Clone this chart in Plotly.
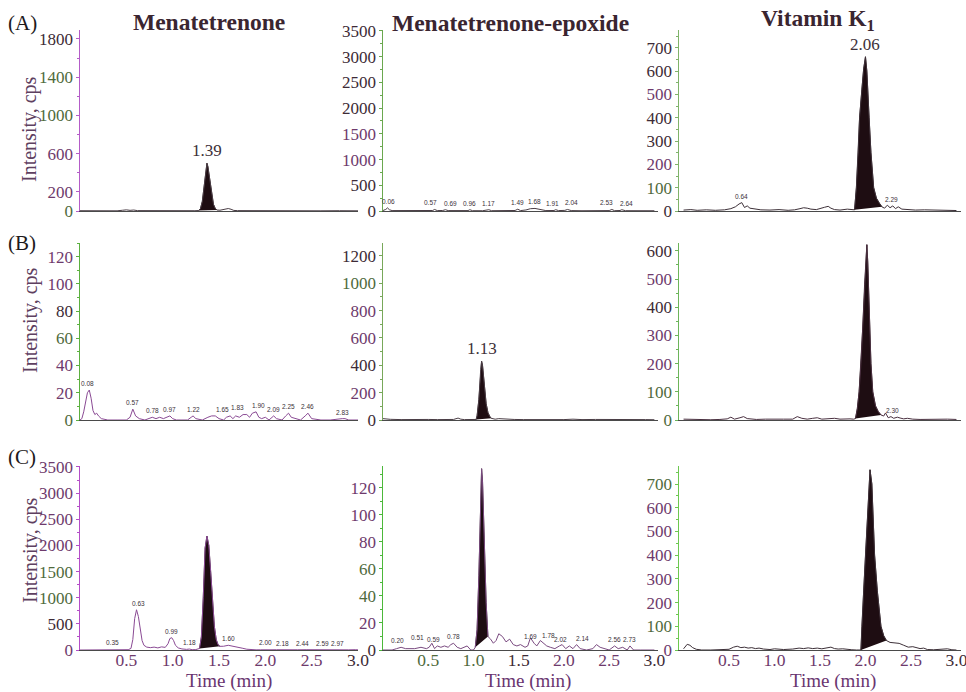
import numpy as np
import plotly.graph_objects as go

# ---------------- data ----------------
# Row A  -  Menatetrenone / Menatetrenone-epoxide / Vitamin K1
a1_t = [0.00, 0.05, 0.12, 0.20, 0.30, 0.40, 0.46, 0.50, 0.54, 0.58, 0.62, 0.70, 0.80, 0.90, 1.00, 1.10, 1.18, 1.24,
        1.28, 1.30, 1.32, 1.34, 1.36, 1.37, 1.38, 1.40, 1.42, 1.44, 1.46, 1.48, 1.51, 1.54, 1.57, 1.60, 1.63, 1.66,
        1.70, 1.80, 1.90, 2.00, 2.20, 2.40, 2.60, 2.80, 3.00]
a1_y = [3, 2, 4, 2, 3, 2, 8, 12, 7, 10, 4, 3, 2, 4, 3, 2, 4, 3,
        5, 25, 100, 270, 460, 500, 465, 330, 170, 70, 25, 10, 8, 15, 24, 26, 18, 6,
        4, 3, 2, 4, 2, 3, 2, 3, 2]

a2_t = [0.00, 0.03, 0.05, 0.07, 0.10, 0.20, 0.35, 0.50, 0.55, 0.57, 0.60, 0.66, 0.69, 0.72, 0.85, 0.94, 0.96, 0.99,
        1.10, 1.15, 1.17, 1.20, 1.35, 1.46, 1.49, 1.52, 1.58, 1.63, 1.68, 1.74, 1.80, 1.89, 1.91, 1.94, 2.01, 2.04,
        2.08, 2.20, 2.35, 2.50, 2.53, 2.56, 2.62, 2.64, 2.68, 2.85, 3.00]
a2_y = [10, 30, 60, 25, 8, 6, 5, 6, 10, 30, 8, 10, 25, 8, 6, 8, 25, 6,
        5, 10, 25, 6, 5, 10, 35, 8, 20, 45, 50, 30, 8, 10, 25, 8, 12, 30,
        8, 5, 6, 8, 30, 6, 10, 25, 6, 5, 5]

a3_t = [0.00, 0.08, 0.15, 0.25, 0.35, 0.45, 0.52, 0.57, 0.61, 0.64, 0.67, 0.70, 0.73, 0.78, 0.85, 0.95, 1.05, 1.15,
        1.22, 1.28, 1.32, 1.36, 1.40, 1.46, 1.51, 1.55, 1.59, 1.62, 1.66, 1.72, 1.80, 1.86, 1.88, 1.90, 1.92, 1.935,
        1.96, 1.98, 2.00, 2.015, 2.04, 2.06, 2.09, 2.12, 2.15, 2.18, 2.21, 2.24, 2.27, 2.30, 2.33, 2.36, 2.40, 2.45,
        2.55, 2.65, 2.80, 2.90, 3.00]
a3_y = [4, 6, 3, 5, 3, 5, 10, 18, 30, 36, 15, 22, 12, 8, 5, 4, 6, 3,
        5, 10, 14, 12, 8, 6, 10, 16, 20, 12, 6, 4, 8, 6, 5, 100, 250, 400,
        520, 610, 662, 600, 400, 250, 100, 55, 35, 18, 12, 25, 14, 22, 10, 18, 8, 6,
        4, 5, 3, 4, 2]

# Row B
b1_t = [0.00, 0.02, 0.04, 0.06, 0.08, 0.10, 0.12, 0.14, 0.16, 0.18, 0.20, 0.23, 0.30, 0.40, 0.50, 0.54, 0.57, 0.60,
        0.64, 0.70, 0.74, 0.78, 0.82, 0.86, 0.90, 0.94, 0.97, 1.00, 1.04, 1.10, 1.16, 1.20, 1.22, 1.25, 1.32, 1.38,
        1.42, 1.46, 1.50, 1.55, 1.58, 1.62, 1.65, 1.68, 1.72, 1.76, 1.80, 1.83, 1.86, 1.90, 1.93, 1.96, 2.00, 2.04,
        2.09, 2.12, 2.18, 2.22, 2.25, 2.28, 2.32, 2.38, 2.43, 2.46, 2.50, 2.60, 2.70, 2.80, 2.83, 2.86, 2.90, 3.00]
b1_y = [0, 1, 6, 14, 20, 22, 16, 7, 4, 5, 3, 1, 0, 0, 0, 2, 8, 3,
        1, 0, 1, 2, 1, 2, 1, 2, 3, 1, 0, 0, 0, 2, 3, 1, 0, 2,
        3, 3, 1, 0, 2, 3, 1, 3, 2, 4, 4, 2, 5, 6, 2, 1, 2, 0,
        3, 1, 0, 3, 5, 2, 1, 0, 3, 5, 1, 0, 0, 1, 1, 1, 0, 0]

b2_t = [0.00, 0.03, 0.08, 0.20, 0.30, 0.40, 0.50, 0.60, 0.70, 0.78, 0.83, 0.86, 0.90, 0.95, 1.00, 1.03, 1.04, 1.06,
        1.08, 1.09, 1.10, 1.12, 1.14, 1.16, 1.18, 1.20, 1.24, 1.28, 1.32, 1.36, 1.45, 1.55, 1.70, 1.85, 2.00, 2.10,
        2.20, 2.35, 2.50, 2.65, 2.80, 2.90, 3.00]
b2_y = [10, 8, 5, 3, 5, 2, 4, 3, 2, 4, 14, 6, 3, 4, 2, 4, 30, 150,
        370, 430, 400, 250, 120, 55, 25, 12, 6, 10, 8, 5, 4, 3, 2, 4, 3, 6,
        3, 4, 5, 3, 2, 3, 2]

b3_t = [0.00, 0.10, 0.20, 0.30, 0.40, 0.48, 0.52, 0.56, 0.62, 0.66, 0.70, 0.74, 0.80, 0.90, 1.00, 1.10, 1.20, 1.25,
        1.30, 1.36, 1.42, 1.47, 1.52, 1.60, 1.66, 1.72, 1.78, 1.83, 1.87, 1.89, 1.91, 1.93, 1.95, 1.97, 1.99, 2.005,
        2.015, 2.025, 2.04, 2.06, 2.08, 2.11, 2.14, 2.17, 2.20, 2.22, 2.25, 2.28, 2.31, 2.35, 2.38, 2.42, 2.46, 2.52,
        2.60, 2.70, 2.80, 2.90, 3.00]
b3_y = [3, 2, 2, 1, 2, 4, 10, 3, 8, 12, 5, 3, 2, 3, 2, 3, 3, 12,
        6, 3, 6, 8, 3, 4, 6, 3, 5, 4, 3, 5, 40, 100, 200, 330, 480, 600,
        622, 560, 380, 200, 100, 50, 30, 18, 14, 25, 8, 12, 6, 10, 7, 4, 6, 3,
        2, 3, 2, 3, 2]

# Row C
c1_t = [0.00, 0.10, 0.20, 0.30, 0.33, 0.35, 0.37, 0.45, 0.52, 0.55, 0.57, 0.59, 0.61, 0.63, 0.65, 0.67, 0.69, 0.72,
        0.76, 0.80, 0.84, 0.88, 0.92, 0.95, 0.97, 0.99, 1.01, 1.03, 1.06, 1.10, 1.15, 1.18, 1.21, 1.25, 1.29, 1.31,
        1.33, 1.35, 1.37, 1.39, 1.41, 1.43, 1.45, 1.47, 1.49, 1.51, 1.55, 1.60, 1.65, 1.70, 1.75, 1.80, 1.85, 1.90,
        1.95, 2.00, 2.05, 2.12, 2.18, 2.25, 2.35, 2.44, 2.52, 2.59, 2.68, 2.80, 2.90, 2.97, 3.00]
c1_y = [0, 2, 3, 4, 6, 15, 5, 4, 6, 30, 200, 600, 770, 640, 380, 180, 90, 55,
        45, 55, 40, 60, 50, 120, 220, 235, 180, 90, 40, 20, 12, 18, 6, 8, 30, 250,
        1000, 1950, 2180, 2000, 1500, 900, 450, 200, 100, 70, 72, 90, 75, 55, 35, 15, 6, 3,
        4, 10, 4, 5, 8, 3, 4, 6, 3, 7, 3, 2, 3, 6, 3]

c2_t = [0.00, 0.10, 0.15, 0.20, 0.25, 0.35, 0.42, 0.48, 0.51, 0.54, 0.57, 0.60, 0.64, 0.68, 0.72, 0.75, 0.78, 0.82,
        0.86, 0.90, 0.93, 0.97, 1.00, 1.02, 1.04, 1.06, 1.08, 1.09, 1.10, 1.12, 1.14, 1.16, 1.19, 1.22, 1.25, 1.28,
        1.32, 1.36, 1.40, 1.44, 1.48, 1.52, 1.57, 1.60, 1.63, 1.67, 1.70, 1.74, 1.78, 1.81, 1.85, 1.90, 1.95, 1.98,
        2.02, 2.06, 2.10, 2.14, 2.18, 2.25, 2.32, 2.36, 2.40, 2.45, 2.50, 2.56, 2.60, 2.65, 2.70, 2.73, 2.77, 2.85,
        3.00]
c2_y = [0, 0, 1, 2, 1, 1, 2, 1, 2, 5, 1, 3, 2, 3, 2, 4, 5, 2,
        1, 2, 3, 0, 0, 2, 15, 55, 115, 134, 125, 80, 35, 10, 8, 5, 7, 12,
        10, 6, 8, 4, 3, 4, 2, 3, 9, 5, 3, 7, 5, 3, 2, 1, 3, 4,
        1, 3, 1, 4, 1, 0, 1, 4, 2, 1, 0, 3, 1, 2, 0, 3, 0, 0,
        0]

c3_t = [0.00, 0.02, 0.04, 0.07, 0.10, 0.14, 0.20, 0.30, 0.40, 0.50, 0.55, 0.59, 0.63, 0.67, 0.71, 0.75, 0.79, 0.83,
        0.88, 0.95, 1.00, 1.05, 1.10, 1.20, 1.27, 1.32, 1.37, 1.42, 1.47, 1.52, 1.58, 1.62, 1.66, 1.70, 1.75, 1.80,
        1.85, 1.90, 1.95, 1.96, 1.98, 2.00, 2.02, 2.04, 2.05, 2.07, 2.10, 2.13, 2.17, 2.20, 2.23, 2.27, 2.32, 2.37,
        2.42, 2.47, 2.52, 2.56, 2.60, 2.64, 2.68, 2.75, 2.85, 2.90, 2.95, 3.00]
c3_y = [5, 15, 24, 20, 10, 3, 0, 0, 1, 3, 12, 16, 10, 12, 8, 10, 6, 8,
        4, 2, 5, 3, 2, 4, 8, 6, 9, 6, 8, 5, 8, 12, 6, 4, 5, 2,
        1, 0, 0, 100, 250, 400, 560, 700, 760, 700, 400, 250, 100, 60, 40, 32, 30, 28,
        20, 12, 14, 10, 6, 8, 2, 1, 2, 5, 1, 0]

# integrated (filled) peak windows, in minutes
a1_fill = (1.28, 1.48)
a3_fill = (1.88, 2.18)
b2_fill = (1.03, 1.20)
b3_fill = (1.89, 2.17)
c1_fill = (1.29, 1.51)
c2_fill = (1.02, 1.16)
c3_fill = (1.95, 2.23)

# retention-time labels
a1_peak = "1.39"
a3_peak = "2.06"
b2_peak = "1.13"
a2_lbl = ["0.06", "0.57", "0.69", "0.96", "1.17", "1.49", "1.68", "1.91", "2.04", "2.53", "2.64"]
a3_lbl = ["0.64", "2.29"]
b1_lbl = ["0.08", "0.57", "0.78", "0.97", "1.22", "1.65", "1.83", "1.90", "2.09", "2.25", "2.46", "2.83"]
b3_lbl = ["2.30"]
c1_lbl = ["0.35", "0.63", "0.99", "1.18", "1.60", "2.00", "2.18", "2.44", "2.59", "2.97"]
c2_lbl = ["0.20", "0.51", "0.59", "0.78", "1.69", "1.78", "2.02", "2.14", "2.56", "2.73"]

# axis tick values
a1_ticks = [0, 200, 600, 1000, 1400, 1800]
a2_ticks = [0, 500, 1000, 1500, 2000, 2500, 3000, 3500]
a3_ticks = [0, 100, 200, 300, 400, 500, 600, 700]
b1_ticks = [0, 20, 40, 60, 80, 100, 120]
b2_ticks = [0, 200, 400, 600, 800, 1000, 1200]
b3_ticks = [0, 100, 200, 300, 400, 500, 600]
c1_ticks = [0, 500, 1000, 1500, 2000, 2500, 3000, 3500]
c2_ticks = [0, 20, 40, 60, 80, 100, 120]
c3_ticks = [0, 100, 200, 300, 400, 500, 600, 700]
time_ticks = [0.5, 1.0, 1.5, 2.0, 2.5, 3.0]

col_titles = ["Menatetrenone", "Menatetrenone-epoxide", "Vitamin K<sub>1</sub>"]
row_labels = ["(A)", "(B)", "(C)"]

# ---------------- styling / layout ----------------
FW, FH = 966, 692
SERIF = "Liberation Serif"
SANS = "Liberation Sans"
FILL = "#1e0d12"
CP = {"P": "#6e3a6c", "D": "#3d2b36", "G": "#4f6a3c"}

col_px = [(80, 358), (383, 658), (679, 961)]
row_px = [(211, 30), (420, 243), (650, 466)]
x_ranges = [[0, 3.0], [0, 3.04], [-0.05, 3.05]]

# pixel nudges for crowded small labels (label placement only)
label_nudge = {
    (1, "0.57"): -4, (1, "0.69"): 5, (1, "1.91"): -3, (1, "2.04"): 4,
    (1, "2.53"): -5, (1, "2.64"): 5,
    (3, "1.65"): -10, (3, "1.83"): -12, (3, "1.90"): 2,
    (6, "2.44"): -4, (6, "2.59"): 2, (6, "2.97"): -18,
    (7, "0.20"): -4, (7, "0.51"): -12, (7, "0.59"): -3, (7, "1.69"): -5, (7, "1.78"): 4,
    (7, "2.02"): -5, (7, "2.14"): 6,
}

panels = [
    dict(t=a1_t, y=a1_y, ymax=1894, ticks=a1_ticks, minor=200, fill=a1_fill, big=a1_peak, small=[],
         axc="#b45cc8", lc="#4a3d45", tc="GPPGGD"),
    dict(t=a2_t, y=a2_y, ymax=3519, ticks=a2_ticks, minor=250, fill=None, big=None, small=a2_lbl,
         axc="#6aa84f", lc="#4a3d45", tc="DDPPDDDD"),
    dict(t=a3_t, y=a3_y, ymax=777, ticks=a3_ticks, minor=50, fill=a3_fill, big=a3_peak, small=a3_lbl,
         axc="#7fb36a", lc="#3d3038", tc="DGPDDPDD"),
    dict(t=b1_t, y=b1_y, ymax=130, ticks=b1_ticks, minor=10, fill=None, big=None, small=b1_lbl,
         axc="#5cb040", lc="#8a4a94", tc="GPPGDPP"),
    dict(t=b2_t, y=b2_y, ymax=1295, ticks=b2_ticks, minor=100, fill=b2_fill, big=b2_peak, small=[],
         axc="#78a85a", lc="#4a3d45", tc="DPDPPGD"),
    dict(t=b3_t, y=b3_y, ymax=628, ticks=b3_ticks, minor=50, fill=b3_fill, big=None, small=b3_lbl,
         axc="#6cb55a", lc="#4a3040", tc="GGPPDPD"),
    dict(t=c1_t, y=c1_y, ymax=3519, ticks=c1_ticks, minor=250, fill=c1_fill, big=None, small=c1_lbl,
         axc="#b44ec8", lc="#8a4a94", tc="PDGGPPPP"),
    dict(t=c2_t, y=c2_y, ymax=136, ticks=c2_ticks, minor=10, fill=c2_fill, big=None, small=c2_lbl,
         axc="#4cb83a", lc="#7a4a80", tc="DPGGPPP"),
    dict(t=c3_t, y=c3_y, ymax=776, ticks=c3_ticks, minor=50, fill=c3_fill, big=None, small=[],
         axc="#6cc850", lc="#3d3038", tc="PGPPPPPG"),
]
xtick_colors = ["PPPPPD", "GGDPPD", "PPPPPD"]

fig = go.Figure()
layout = dict(width=FW, height=FH, margin=dict(l=0, r=0, t=0, b=0),
              paper_bgcolor="white", plot_bgcolor="rgba(0,0,0,0)", showlegend=False,
              template="none")
annotations = []

def span(text, color):
    return f'<span style="color:{color}">{text}</span>'

for i, p in enumerate(panels):
    r, c = divmod(i, 3)
    sfx = "" if i == 0 else str(i + 1)
    xn, yn = "x" + sfx, "y" + sfx
    t = np.array(p["t"], dtype=float)
    y = np.array(p["y"], dtype=float)
    assert len(t) == len(y), (i, len(t), len(y))

    if p["fill"] is not None:
        lo, hi = p["fill"]
        m = (t >= lo - 1e-9) & (t <= hi + 1e-9)
        fig.add_trace(go.Scatter(x=t[m], y=y[m], mode="lines", fill="toself", fillcolor=FILL,
                                 line=dict(color=FILL, width=0.8), xaxis=xn, yaxis=yn, hoverinfo="skip"))
    fig.add_trace(go.Scatter(x=t, y=y, mode="lines", line=dict(color=p["lc"], width=1),
                             xaxis=xn, yaxis=yn, hoverinfo="skip"))

    x0, x1 = col_px[c]
    yb, yt = row_px[r]
    xa = dict(domain=[x0 / FW, x1 / FW], range=x_ranges[c], anchor=yn,
              showline=True, linecolor="#4a4a4a", linewidth=1, showgrid=False, zeroline=False,
              ticks="", automargin=False, fixedrange=True)
    if r == 2:
        xa.update(showticklabels=True, tickmode="array", tickvals=time_ticks,
                  ticktext=[span(f"{v:.1f}", CP[k]) for v, k in zip(time_ticks, xtick_colors[c])],
                  tickfont=dict(family=SERIF, size=17.5, color=CP["P"]), ticklabelstandoff=-6,
                  ticklabeloverflow="allow")
    else:
        xa.update(showticklabels=False)
    ya = dict(domain=[1 - yb / FH, 1 - yt / FH], range=[0, p["ymax"]], anchor=xn,
              showline=True, linecolor=p["axc"], linewidth=1.5, showgrid=False, zeroline=False,
              ticks="outside", ticklen=3, tickwidth=1, tickcolor=p["axc"],
              tickmode="array", tickvals=p["ticks"],
              ticktext=[span(str(v), CP[k]) for v, k in zip(p["ticks"], p["tc"])],
              tickfont=dict(family=SERIF, size=17, color=CP["D"]), ticklabelstandoff=-1,
              minor=dict(ticks="outside", ticklen=2, tickcolor=p["axc"], tickmode="linear",
                         tick0=0, dtick=p["minor"], showgrid=False),
              automargin=False, fixedrange=True)
    layout["xaxis" + sfx] = xa
    layout["yaxis" + sfx] = ya

    # main retention-time label above apex
    if p["big"] is not None:
        k = int(np.argmax(y))
        annotations.append(dict(x=t[k], y=y[k], xref=xn, yref=yn, text=p["big"], showarrow=False,
                                yanchor="bottom", yshift=1,
                                font=dict(family=SERIF, size=17, color="#3d3038")))
    # small peak labels
    for s in p["small"]:
        tl = float(s)
        grid = np.linspace(tl - 0.025, tl + 0.025, 11)
        yl = float(np.max(np.interp(grid, t, y)))
        annotations.append(dict(x=tl, y=yl, xref=xn, yref=yn, text=s, showarrow=False,
                                yanchor="bottom", yshift=1, xshift=label_nudge.get((i, s), 0),
                                font=dict(family=SANS, size=6.5, color="#3a3238")))

# column titles
title_pos = [(209, 22), (510, 23), (818, 20)]
for txt, (px, py) in zip(col_titles, title_pos):
    annotations.append(dict(x=px / FW, y=1 - py / FH, xref="paper", yref="paper", text=f"<b>{txt}</b>",
                            showarrow=False, xanchor="center", yanchor="middle",
                            font=dict(family=SERIF, size=23.5, color="#3a2530")))
# row labels
for txt, py in zip(row_labels, [23, 243, 457]):
    annotations.append(dict(x=6 / FW, y=1 - py / FH, xref="paper", yref="paper", text=txt,
                            showarrow=False, xanchor="left", yanchor="middle",
                            font=dict(family=SERIF, size=21, color="#1e1a1c")))
# y titles
for py in [129, 320, 550]:
    annotations.append(dict(x=30 / FW, y=1 - py / FH, xref="paper", yref="paper", text="Intensity, cps",
                            showarrow=False, textangle=-90, xanchor="center", yanchor="middle",
                            font=dict(family=SERIF, size=20, color="#5e4060")))
# x titles
for px in [229, 528, 833]:
    annotations.append(dict(x=px / FW, y=1 - 681 / FH, xref="paper", yref="paper", text="Time (min)",
                            showarrow=False, xanchor="center", yanchor="middle",
                            font=dict(family=SERIF, size=19, color="#6a3570")))

layout["annotations"] = annotations
fig.update_layout(**layout)
fig.write_html("out.html", config={"displayModeBar": False, "staticPlot": True},
               post_script="document.body.style.margin='0px';document.body.style.overflow='hidden';")
